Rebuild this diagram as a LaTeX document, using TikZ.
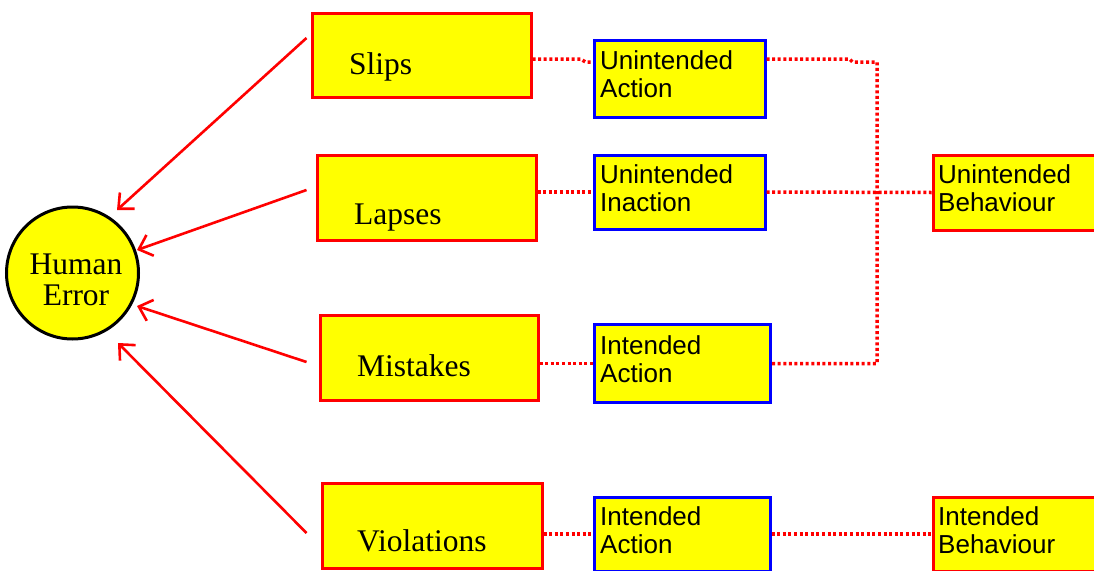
\documentclass[tikz,border=0pt]{standalone}
\usepackage{fontspec}
\setmainfont{Liberation Serif}
\newfontfamily\arialf{Liberation Sans}
\usetikzlibrary{arrows.meta,calc}
\definecolor{ylw}{RGB}{255,255,0}
\definecolor{rd}{RGB}{255,0,0}
\definecolor{bl}{RGB}{0,0,255}
\tikzset{
  redbox/.style={draw=rd, fill=ylw, line width=3pt, rectangle, inner sep=0pt},
  bluebox/.style={draw=bl, fill=ylw, line width=3pt, rectangle, inner sep=0pt},
  serlbl/.style={anchor=base west, inner sep=0pt, font=\fontsize{31.5}{31}\selectfont},
  sanslbl/.style={anchor=base west, inner sep=0pt},
  dotline/.style={draw=rd, line width=3.5pt, dash pattern=on 3pt off 2.6pt},
  arr/.style={draw=rd, line width=2.6pt, -{Straight Barb[length=12pt,width=22pt,line width=2.6pt]}}
}
\newcommand{\twol}[2]{\parbox[t]{6cm}{\arialf\fontsize{26}{28.5}\selectfont #1\\#2}}
\begin{document}
\begin{tikzpicture}[x=1pt,y=-1pt]
\clip (0,0) rectangle (1094,570);
\fill[white] (0,0) rectangle (1094,570);
% human error
\node[circle, draw=black, fill=ylw, line width=3pt, minimum size=132pt, inner sep=0pt] (he) at (72.5,273) {};
\node[anchor=base, inner sep=0pt] (het) at (76,274) {\parbox[t]{120pt}{\centering\fontsize{31.5}{31}\selectfont Human\\Error}};
% red category boxes
\node[redbox, minimum width=219pt, minimum height=84pt] (slips) at (421.5,55) {};
\node[redbox, minimum width=219pt, minimum height=85pt] (lapses) at (426.5,197.5) {};
\node[redbox, minimum width=218pt, minimum height=85pt] (mistakes) at (429,357.5) {};
\node[redbox, minimum width=220pt, minimum height=85pt] (violations) at (432,525.5) {};
\node[serlbl] (slipsT) at (349,74) {Slips};
\node[serlbl] (lapsesT) at (354,224) {Lapses};
\node[serlbl] (mistakesT) at (357,376) {Mistakes};
\node[serlbl] (violationsT) at (357,551) {Violations};
% blue action boxes
\node[bluebox, minimum width=171pt, minimum height=77pt] (ua) at (679.5,78.5) {};
\node[bluebox, minimum width=171pt, minimum height=74pt] (ui) at (679.5,192) {};
\node[bluebox, minimum width=176pt, minimum height=78pt] (ia1) at (682,363.5) {};
\node[bluebox, minimum width=176pt, minimum height=74pt] (ia2) at (682,534) {};
\node[sanslbl] (uaT) at (600,69) {\twol{Unintended}{Action}};
\node[sanslbl] (uiT) at (600,183) {\twol{Unintended}{Inaction}};
\node[sanslbl] (ia1T) at (600,354) {\twol{Intended}{Action}};
\node[sanslbl] (ia2T) at (600,525) {\twol{Intended}{Action}};
% behaviour boxes
\node[redbox, minimum width=176pt, minimum height=75pt] (ub) at (1021,192.5) {};
\node[redbox, minimum width=176pt, minimum height=74pt] (ib) at (1021,534) {};
\node[sanslbl] (ubT) at (938,183) {\twol{Unintended}{Behaviour}};
\node[sanslbl] (ibT) at (938,525) {\twol{Intended}{Behaviour}};
% dotted connectors
\coordinate (jt) at (877,62);
\coordinate (jb) at (877,363.5);
\draw[dotline] ($(slips.east)+(0,4)$) -- ++(48,0) -- ++(5,3) -- ($(ua.west)+(0,-16.5)$);
\draw[dotline] ($(ua.east)+(0,-19.5)$) -- ++(83,0) -- ++(3,3) -- (jt) -- (jb) -- (ia1.east);
\draw[dotline] (ui.east) -- (ub.west);
\draw[dotline] (lapses.east |- ui.west) -- (ui.west);
\draw[dotline] (mistakes.east |- ia1.west) -- (ia1.west);
\draw[dotline] (violations.east |- ia2.west) -- (ia2.west);
\draw[dotline] (ia2.east) -- (ib.west);
% arrows to human error
\draw[arr] ($(slips.west)+(-4,-17)$) -- ($(he.center)+(44.5,-63)$);
\draw[arr] ($(lapses.west)+(-9,-7.5)$) -- ($(he.center)+(64.5,-23)$);
\draw[arr] ($(mistakes.west)+(-12,4.5)$) -- ($(he.center)+(64.5,33)$);
\draw[arr] ($(violations.west)+(-14,7.5)$) -- ($(he.center)+(45.5,70)$);
\end{tikzpicture}
\end{document}
